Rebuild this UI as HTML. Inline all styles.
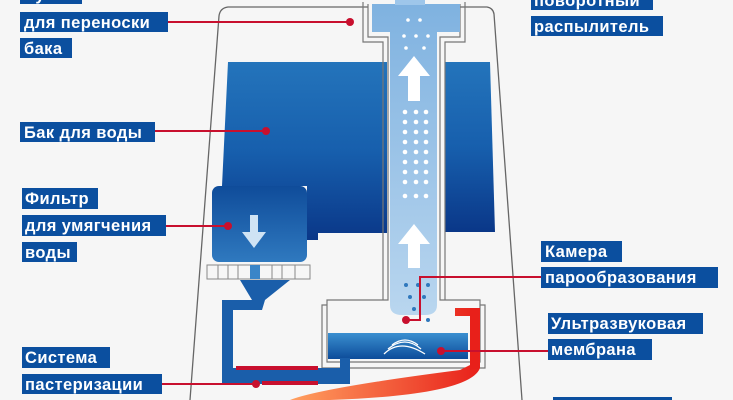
<!DOCTYPE html>
<html><head><meta charset="utf-8"><style>
html,body{margin:0;padding:0;background:#f6f6f6;}
svg{display:block}
.l{font-family:"Liberation Sans",sans-serif;font-weight:bold;font-size:16.5px;letter-spacing:0.4px;fill:#fff}
.b{fill:#0b4f9f}
</style></head><body>
<svg width="733" height="400" viewBox="0 0 733 400" xmlns="http://www.w3.org/2000/svg">
<defs>
<linearGradient id="tank" x1="0" y1="0" x2="0" y2="1"><stop offset="0" stop-color="#2474bb"/><stop offset="0.5" stop-color="#175fad"/><stop offset="1" stop-color="#0a3788"/></linearGradient>
<linearGradient id="tube" x1="0" y1="0" x2="0" y2="1"><stop offset="0" stop-color="#7fb2e0"/><stop offset="1" stop-color="#b9d6ef"/></linearGradient>
<linearGradient id="filt" x1="0" y1="0" x2="0" y2="1"><stop offset="0" stop-color="#0f4c9a"/><stop offset="1" stop-color="#2f79bf"/></linearGradient>
<linearGradient id="wat" x1="0" y1="0" x2="0" y2="1"><stop offset="0" stop-color="#3a8fd0"/><stop offset="1" stop-color="#0d4c9a"/></linearGradient>
<linearGradient id="heat" x1="0" y1="0" x2="1" y2="0"><stop offset="0" stop-color="#ffa060"/><stop offset="1" stop-color="#e8201a"/></linearGradient>
</defs>
<rect width="733" height="400" fill="#f6f6f6"/>
<path d="M190 400 L219 16 Q220 8 228 7 L487 7 Q493 8 494 14 L522 400" fill="none" stroke="#666" stroke-width="1.3"/>
<path d="M228 62 L387 62 L387 233 L318 233 L318 240 L307 240 L307 186 L222 186 Z" fill="url(#tank)"/>
<path d="M445 62 L490 62 L495 232 L445 232 Z" fill="url(#tank)"/>
<path d="M363 2 L363 42 L383 42 L383 305 L322 305 L322 368 L485 368 L485 305 L445 305 L445 42 L465 42 L465 2" fill="none" stroke="#777" stroke-width="1.2"/>
<path d="M368 4 L368 37 L388 37 L388 300 L327 300 L327 362 L480 362 L480 300 L440 300 L440 37 L460 37 L460 4" fill="#f6f6f6" stroke="#777" stroke-width="1.2"/>
<path d="M372 4 L460 4 L460 32 L437 32 L437 305 Q437 315 425 315 L402 315 Q390 315 390 305 L390 32 L372 32 Z" fill="url(#tube)"/>
<rect x="395" y="0" width="30" height="5" fill="#9ec6ea"/>
<polygon points="414,56 430,76 420,76 420,101 408,101 408,76 398,76" fill="#fff"/>
<polygon points="414,224 430,244 420,244 420,268 408,268 408,244 398,244" fill="#fff"/>
<g fill="#fff">
<circle cx="405" cy="112" r="2.3"/><circle cx="416" cy="112" r="2.3"/><circle cx="426" cy="112" r="2.3"/>
<circle cx="405" cy="122" r="2.3"/><circle cx="416" cy="122" r="2.3"/><circle cx="426" cy="122" r="2.3"/>
<circle cx="405" cy="132" r="2.3"/><circle cx="416" cy="132" r="2.3"/><circle cx="426" cy="132" r="2.3"/>
<circle cx="405" cy="142" r="2.3"/><circle cx="416" cy="142" r="2.3"/><circle cx="426" cy="142" r="2.3"/>
<circle cx="405" cy="152" r="2.3"/><circle cx="416" cy="152" r="2.3"/><circle cx="426" cy="152" r="2.3"/>
<circle cx="405" cy="162" r="2.3"/><circle cx="416" cy="162" r="2.3"/><circle cx="426" cy="162" r="2.3"/>
<circle cx="405" cy="172" r="2.3"/><circle cx="416" cy="172" r="2.3"/><circle cx="426" cy="172" r="2.3"/>
<circle cx="405" cy="182" r="2.3"/><circle cx="416" cy="182" r="2.3"/><circle cx="426" cy="182" r="2.3"/>
<circle cx="405" cy="196" r="2.3"/><circle cx="416" cy="196" r="2.3"/><circle cx="426" cy="196" r="2.3"/>
<circle cx="408" cy="20" r="1.8"/><circle cx="420" cy="20" r="1.8"/><circle cx="404" cy="36" r="1.8"/><circle cx="416" cy="36" r="1.8"/><circle cx="428" cy="36" r="1.8"/>
<circle cx="406" cy="48" r="1.8"/><circle cx="424" cy="48" r="1.8"/>
</g>
<g fill="#2f78bd">
<circle cx="406" cy="285" r="2"/><circle cx="418" cy="285" r="2"/><circle cx="428" cy="285" r="2"/>
<circle cx="410" cy="297" r="2"/><circle cx="424" cy="297" r="2"/><circle cx="414" cy="309" r="2"/><circle cx="428" cy="320" r="2"/>
</g>
<rect x="328" y="333" width="140" height="26" fill="url(#wat)"/>
<g fill="none" stroke="#fff" stroke-width="1.3"><path d="M384 354 Q400 338 425 354"/><path d="M388 349 Q405 335 421 349"/><path d="M392 345 Q405 335 418 345"/></g>
<rect x="212" y="186" width="95" height="76" rx="7" fill="url(#filt)"/>
<polygon points="250,215 258,215 258,232 266,232 254,248 242,232 250,232" fill="#cfe3f4"/>
<rect x="207" y="265" width="103" height="14" fill="#f6f6f6" stroke="#888" stroke-width="1"/>
<g stroke="#888" stroke-width="1"><line x1="218" y1="265" x2="218" y2="279"/><line x1="228" y1="265" x2="228" y2="279"/><line x1="238" y1="265" x2="238" y2="279"/><line x1="272" y1="265" x2="272" y2="279"/><line x1="282" y1="265" x2="282" y2="279"/><line x1="295" y1="265" x2="295" y2="279"/></g>
<rect x="250" y="265" width="10" height="14" fill="#3a85c8"/>
<path d="M240 280 L290 280 L265 300 L262 310 L233 310 L233 368 L340 368 L340 358 L350 358 L350 384 L222 384 L222 300 L252 300 Z" fill="#1a5eaa"/>
<rect x="236" y="366" width="82" height="4" fill="#c8102e"/>
<rect x="262" y="381" width="56" height="4" fill="#c8102e"/>
<path d="M455 308 L480 308 L480 368 Q470 395 330 400 L290 400 Q320 388 460 370 L470 365 L470 316 L455 316 Z" fill="url(#heat)"/>
<path d="M470 308 L480 308 L480 368 L470 370 Z" fill="#e8201a"/>
<g stroke="#c8102e" stroke-width="2" fill="none">
<line x1="168" y1="22" x2="350" y2="22"/>
<line x1="155" y1="131" x2="266" y2="131"/>
<line x1="166" y1="226" x2="228" y2="226"/>
<line x1="162" y1="384" x2="256" y2="384"/>
<polyline points="541,277 420,277 420,320 406,320"/>
<line x1="548" y1="351" x2="441" y2="351"/>
</g>
<g fill="#c8102e">
<circle cx="350" cy="22" r="4"/><circle cx="266" cy="131" r="4"/><circle cx="228" cy="226" r="4"/><circle cx="256" cy="384" r="4"/><circle cx="406" cy="320" r="4"/><circle cx="441" cy="351" r="4"/>
</g>
<rect class="b" x="20" y="-16" width="62" height="20"/><text class="l" x="24" y="0">Ручка</text>
<rect class="b" x="20" y="12" width="148" height="20"/><text class="l" x="24" y="28">для переноски</text>
<rect class="b" x="20" y="38" width="52" height="20"/><text class="l" x="24" y="54">бака</text>
<rect class="b" x="20" y="122" width="135" height="20"/><text class="l" x="24" y="138">Бак для воды</text>
<rect class="b" x="22" y="188" width="76" height="21"/><text class="l" x="25" y="204">Фильтр</text>
<rect class="b" x="22" y="215" width="144" height="21"/><text class="l" x="25" y="231">для умягчения</text>
<rect class="b" x="22" y="242" width="55" height="20"/><text class="l" x="25" y="258">воды</text>
<rect class="b" x="22" y="347" width="88" height="21"/><text class="l" x="25" y="363">Система</text>
<rect class="b" x="22" y="374" width="140" height="20"/><text class="l" x="25" y="390">пастеризации</text>
<rect class="b" x="531" y="-10" width="122" height="20"/><text class="l" x="534" y="6">поворотный</text>
<rect class="b" x="531" y="16" width="132" height="20"/><text class="l" x="534" y="32">распылитель</text>
<rect class="b" x="541" y="241" width="81" height="21"/><text class="l" x="545" y="257">Камера</text>
<rect class="b" x="541" y="267" width="177" height="21"/><text class="l" x="545" y="283">парообразования</text>
<rect class="b" x="548" y="313" width="155" height="21"/><text class="l" x="551" y="329">Ультразвуковая</text>
<rect class="b" x="548" y="339" width="104" height="21"/><text class="l" x="551" y="355">мембрана</text>
<rect class="b" x="553" y="397" width="119" height="10"/>
</svg>
</body></html>
